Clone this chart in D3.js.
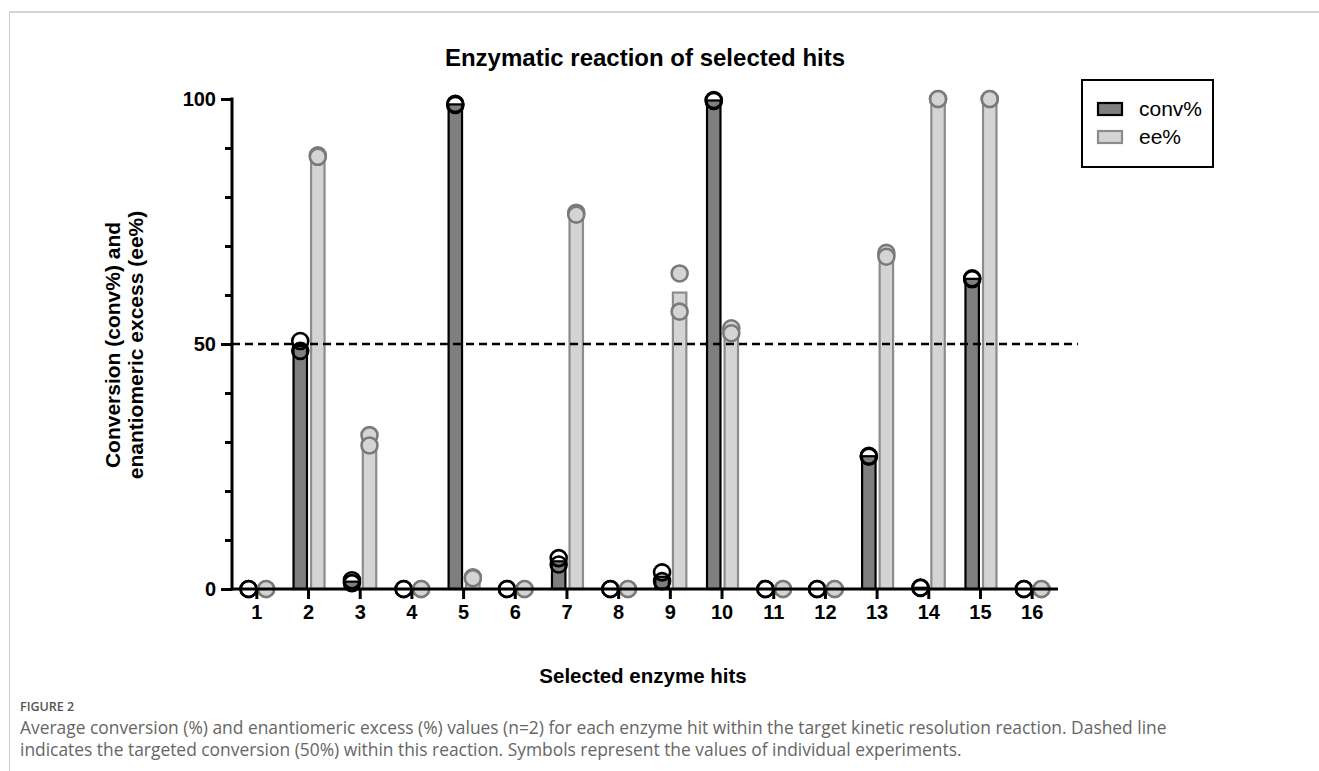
<!DOCTYPE html>
<html>
<head>
<meta charset="utf-8">
<script src="https://cdn.jsdelivr.net/npm/d3@7"></script>
<style>
  body { margin: 0; background: #fff; }
  svg { display: block; }
</style>
</head>
<body>
<div id="chart"></div>
<script>
// enzyme hits 1..16, two replicate experiments each (n=2)
const hits = ["1", "2", "3", "4", "5", "6", "7", "8", "9", "10", "11", "12", "13", "14", "15", "16"]
const convRep1 = [0, 50.6, 1.8, 0, 99.0, 0, 6.3, 0, 3.4, 99.8, 0, 0, 27.2, 0.3, 63.4, 0]
const convRep2 = [0, 48.6, 1.2, 0, 98.8, 0, 5.0, 0, 1.6, 99.6, 0, 0, 27.0, 0.2, 63.2, 0]
const eeRep1 = [0, 88.5, 31.4, 0, 2.4, 0, 76.8, 0, 64.4, 53.2, 0, 0, 68.6, 100, 100, 0]
const eeRep2 = [0, 88.2, 29.3, 0, 2.2, 0, 76.4, 0, 56.6, 52.2, 0, 0, 67.8, 100, 100, 0]
const seriesNames = ["conv%", "ee%"]
const targetConv = 50
const yTicks = [0, 10, 20, 30, 40, 50, 60, 70, 80, 90, 100]
const yLabels = [0, 50, 100]

const W = 1319, H = 771
const svg = d3.select("#chart").append("svg").attr("width", W).attr("height", H)
const font = "'Liberation Sans', Arial, sans-serif"

// page frame
svg.append("line").attr("x1", 9).attr("x2", W).attr("y1", 12).attr("y2", 12)
  .attr("stroke", "#d4d4d4").attr("stroke-width", 2)
svg.append("line").attr("x1", 9.5).attr("x2", 9.5).attr("y1", 12).attr("y2", H)
  .attr("stroke", "#cfcfcf").attr("stroke-width", 1)

const x = d3.scaleBand().domain(hits).range([231, 1058]).padding(0)
const sub = d3.scaleBand().domain(seriesNames).range([-16, 17]).paddingInner(0.12)
const y = d3.scaleLinear().domain([0, 100]).range([589, 99])

const series = [
  { name: "conv%", r1: convRep1, r2: convRep2, fill: "#7f7f7f", stroke: "#000", dotFill: "none", dotStroke: "#000" },
  { name: "ee%", r1: eeRep1, r2: eeRep2, fill: "#d4d4d4", stroke: "#8c8c8c", dotFill: "#d4d4d4", dotStroke: "#7a7a7a" },
]

const cx = (s, i) => x(hits[i]) + x.bandwidth() / 2 + sub(s.name) + sub.bandwidth() / 2

// bars (mean of the two replicates)
series.forEach((s) => {
  svg.append("g").selectAll("rect").data(hits).enter().append("rect")
    .attr("x", (d, i) => x(d) + x.bandwidth() / 2 + sub(s.name) + 1)
    .attr("width", sub.bandwidth() - 2)
    .attr("y", (d, i) => y((s.r1[i] + s.r2[i]) / 2))
    .attr("height", (d, i) => y(0) - y((s.r1[i] + s.r2[i]) / 2))
    .attr("fill", s.fill)
    .attr("stroke", s.stroke)
    .attr("stroke-width", 2.2)
})

// individual experiments
series.forEach((s) => {
  const pts = []
  hits.forEach((d, i) => { pts.push({ i, v: s.r1[i] }); pts.push({ i, v: s.r2[i] }) })
  svg.append("g").selectAll("circle").data(pts).enter().append("circle")
    .attr("cx", (p) => cx(s, p.i))
    .attr("cy", (p) => y(p.v))
    .attr("r", 8)
    .attr("fill", s.dotFill)
    .attr("stroke", s.dotStroke)
    .attr("stroke-width", 2.6)
})

// target conversion line
svg.append("line")
  .attr("x1", 232).attr("x2", 1078)
  .attr("y1", y(targetConv)).attr("y2", y(targetConv))
  .attr("stroke", "#000").attr("stroke-width", 2.5)
  .attr("stroke-dasharray", "8,5")

// y axis
const yAxis = svg.append("g").attr("transform", "translate(232,0)")
  .call(d3.axisLeft(y).tickValues(yTicks).tickSize(11).tickPadding(5)
    .tickFormat((d) => (yLabels.includes(d) ? d : "")))
yAxis.select(".domain").attr("stroke-width", 3).attr("d", `M0,${y(100) - 1.5}V${y(0) + 1.5}`)
yAxis.selectAll(".tick line").attr("stroke-width", 3)
  .attr("x2", (d) => (yLabels.includes(d) ? -11 : -7))
yAxis.selectAll(".tick text")
  .attr("font-family", font).attr("font-weight", "bold").attr("font-size", 20).attr("fill", "#000")

// x axis
const xAxis = svg.append("g").attr("transform", "translate(0,589)")
  .call(d3.axisBottom(x).tickSize(10).tickPadding(6).tickSizeOuter(0))
xAxis.select(".domain").attr("stroke-width", 3).attr("d", "M231,0H1058")
xAxis.selectAll(".tick line").attr("stroke-width", 3)
xAxis.selectAll(".tick text")
  .attr("font-family", font).attr("font-weight", "bold").attr("font-size", 20).attr("fill", "#000")

// titles
svg.append("text").attr("x", 645).attr("y", 66).attr("text-anchor", "middle")
  .attr("font-family", font).attr("font-weight", "bold").attr("font-size", 24)
  .text("Enzymatic reaction of selected hits")
svg.append("text").attr("x", 643).attr("y", 683).attr("text-anchor", "middle")
  .attr("font-family", font).attr("font-weight", "bold").attr("font-size", 20.5)
  .text("Selected enzyme hits")
const yl = svg.append("text").attr("transform", "translate(0,345) rotate(-90)")
  .attr("text-anchor", "middle")
  .attr("font-family", font).attr("font-weight", "bold").attr("font-size", 21)
yl.append("tspan").attr("x", 0).attr("y", 120).text("Conversion (conv%) and")
yl.append("tspan").attr("x", 0).attr("y", 143).text("enantiomeric excess (ee%)")

// legend
const lg = svg.append("g")
lg.append("rect").attr("x", 1082).attr("y", 80).attr("width", 131).attr("height", 87)
  .attr("fill", "#fff").attr("stroke", "#000").attr("stroke-width", 2)
series.forEach((s, k) => {
  lg.append("rect").attr("x", 1098).attr("y", 103 + k * 28).attr("width", 24).attr("height", 12)
    .attr("fill", s.fill).attr("stroke", s.stroke).attr("stroke-width", 2.2)
  lg.append("text").attr("x", 1139).attr("y", 116 + k * 28)
    .attr("font-family", font).attr("font-size", 21).text(s.name)
})

// caption
const cap = "'Open Sans', 'Noto Sans', sans-serif"
svg.append("text").attr("x", 20).attr("y", 711)
  .attr("font-family", cap).attr("font-size", 12.5).attr("font-weight", 600).attr("fill", "#555")
  .text("FIGURE 2")
const capLines = [
  "Average conversion (%) and enantiomeric excess (%) values (n=2) for each enzyme hit within the target kinetic resolution reaction. Dashed line",
  "indicates the targeted conversion (50%) within this reaction. Symbols represent the values of individual experiments.",
]
capLines.forEach((t, k) => {
  svg.append("text").attr("x", 20).attr("y", 734 + k * 22)
    .attr("font-family", cap).attr("font-size", 17.4).attr("fill", "#666").text(t)
})
</script>
</body>
</html>
